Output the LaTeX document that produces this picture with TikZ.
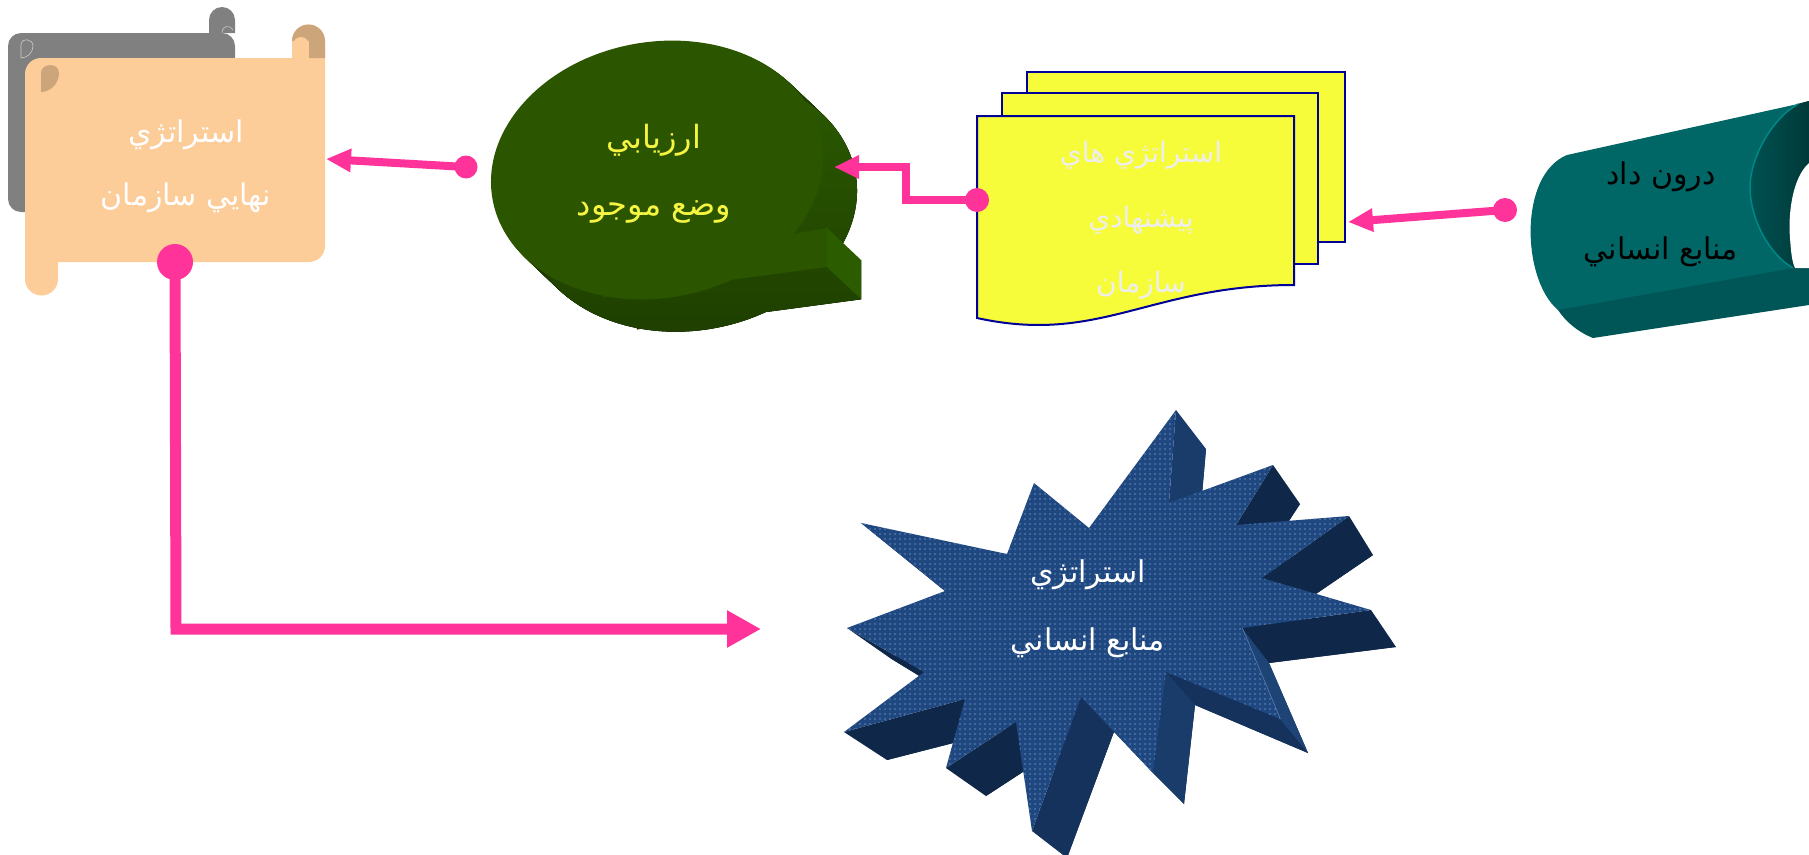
\documentclass[tikz,border=0pt]{standalone}
\usepackage{fontspec}
\newfontfamily\arabicfont[Script=Arabic]{DejaVu Sans}
\TeXXeTstate=1
\usetikzlibrary{arrows.meta,patterns.meta}
\newcommand\rl[1]{\beginR#1\endR}

\definecolor{pinkline}{RGB}{255,51,153}
\definecolor{peach}{RGB}{252,204,153}
\definecolor{scrolltan}{RGB}{205,165,122}
\definecolor{shadowgray}{RGB}{128,128,128}
\definecolor{leaf}{RGB}{44,85,0}
\definecolor{leafside}{RGB}{44,92,0}
\definecolor{leafdark}{RGB}{30,62,0}
\definecolor{bubbletext}{RGB}{245,245,66}
\definecolor{docyellow}{RGB}{247,252,58}
\definecolor{docline}{RGB}{0,0,153}
\definecolor{doctext}{RGB}{238,238,238}
\definecolor{tealface}{RGB}{0,102,102}
\definecolor{tealband}{RGB}{0,86,86}
\definecolor{tealin}{RGB}{0,72,72}
\definecolor{tealrim}{RGB}{0,135,135}
\definecolor{starface}{RGB}{31,72,128}
\definecolor{stardots}{RGB}{100,136,184}
\definecolor{starmid}{RGB}{26,60,106}
\definecolor{starlight}{RGB}{30,68,118}
\definecolor{starlow}{RGB}{21,50,92}
\definecolor{stardark}{RGB}{15,39,73}

\tikzset{
  arlabel/.style={align=center, inner sep=0pt},
  pinkdot/.style={circle, fill=pinkline, inner sep=0pt, minimum size=#1},
  flow/.style={draw=pinkline, line width=8pt, -{Triangle[length=25pt,width=22pt]}},
  mainflow/.style={draw=pinkline, line width=11pt, -{Triangle[length=34pt,width=35pt]}},
  docsheet/.style={fill=docyellow, draw=docline, line width=2pt},
}

% outline of the speech bubble: tilted ellipse plus its tail, one path
\newcommand\bubbleoutline{%
  (821.5,141) .. controls (833.8,210.6) and (770.1,280.1) .. (679.2,296.1)
  .. controls (588.3,312.1) and (504.8,268.6) .. (492.5,199)
  .. controls (480.2,129.4) and (543.9,59.9) .. (634.8,43.9)
  .. controls (725.7,27.9) and (809.2,71.4) .. (821.5,141) -- cycle
  (770,238) -- (827,228) -- (827,267) -- (603,297) -- (657,170) -- cycle}

\begin{document}
\begin{tikzpicture}[x=1pt,y=-1pt]
\useasboundingbox (0,0) rectangle (1809,854);
\clip (0,0) rectangle (1809,854);

% ---------- scroll: final organisation strategy ----------
\fill[shadowgray, rounded corners=13] (8,33) rectangle (235,212);
\fill[shadowgray] (209,33) -- (209,20) arc[start angle=180,end angle=360,radius=13] -- (235,33) -- cycle;
\draw[white!60!shadowgray, line width=0.6pt] (21,58) -- (21,44) .. controls (21,38) and (33,38) .. (33,46) .. controls (33,53) and (27,58) .. (21,58);
\draw[white!60!shadowgray, line width=0.6pt] (222,33) .. controls (222,26) and (229,24) .. (233,30);
\fill[peach] (25,74) arc[start angle=180,end angle=270,radius=16] -- (325,58) -- (325,246)
  arc[start angle=0,end angle=90,radius=16] -- (25,262) -- cycle;
\fill[peach] (292,58) -- (292,41) arc[start angle=180,end angle=360,radius=16.5] -- (325,58) -- cycle;
\fill[scrolltan] (292,41) arc[start angle=180,end angle=360,radius=16.5] -- (325,58) -- (309,58) -- (309,41) -- cycle;
\fill[peach] (301,45) circle[radius=8];
\fill[peach] (25,262) -- (25,279) arc[start angle=180,end angle=0,radius=16.5] -- (58,262) -- cycle;
\fill[scrolltan] (41,92) -- (41,73) .. controls (41,63) and (59,62) .. (59,73) .. controls (59,84) and (50,92) .. (41,92) -- cycle;
\node[arlabel, text=white, font=\arabicfont\fontsize{30}{63}\selectfont] (final) at (186,166)
  {\rl{استراتژي}\\\rl{نهايي سازمان}};

% ---------- speech bubble: assessment of the current state ----------
\foreach \s in {34,...,1}
  {\fill[leafdark, shift={(\s,0.95*\s)}] \bubbleoutline;}
\fill[top color=leafside, middle color=leafside!55!leafdark, bottom color=leafdark,
  shift={(34,32.3)}] \bubbleoutline;
\fill[leafside] (827,228) -- (861,260) -- (861,299) -- (827,267) -- cycle;
\fill[leaf] \bubbleoutline;
\node[arlabel, text=bubbletext, font=\arabicfont\fontsize{32}{67}\selectfont] (assess) at (654,174)
  {\rl{ارزيابي}\\\rl{وضع موجود}};

% ---------- stacked documents: proposed strategies ----------
\filldraw[docsheet] (1027,72) rectangle (1345,242);
\filldraw[docsheet] (1002,93) rectangle (1318,264);
\filldraw[docsheet] (977,116) -- (1294,116) -- (1294,285)
  .. controls (1150,285) and (1100,345) .. (977,318) -- cycle;
\node[arlabel, text=doctext, font=\arabicfont\fontsize{28}{65}\selectfont] (proposed) at (1141,220)
  {\rl{استراتژي هاي}\\\rl{پيشنهادي}\\\rl{سازمان}};

% ---------- half pipe: HR input ----------
\fill[tealband] (1556,305) -- (1809,263) -- (1809,305) -- (1593,338)
  .. controls (1578,332) and (1566,322) .. (1558,310) -- cycle;
\fill[tealface] (1567,155) -- (1798,104) .. controls (1770,120) and (1750,160) .. (1750,187)
  .. controls (1750,220) and (1770,255) .. (1793,268) -- (1558,310)
  .. controls (1522,280) and (1518,175) .. (1567,155) -- cycle;
\fill[left color=tealin!70!tealface, right color=tealin!80!black] (1798,104)
  .. controls (1770,120) and (1750,160) .. (1750,187)
  .. controls (1750,220) and (1770,255) .. (1793,268) -- (1809,268) -- (1809,101) -- cycle;
\draw[tealrim, line width=1.5pt] (1798,104) .. controls (1770,120) and (1750,160) .. (1750,187)
  .. controls (1750,220) and (1770,255) .. (1793,268);
\fill[white] (1809,163) .. controls (1792,178) and (1788,215) .. (1790,238)
  .. controls (1791,252) and (1792,262) .. (1795,268) -- (1809,268) -- cycle;
\node[arlabel, text=black, font=\arabicfont\fontsize{30}{75}\selectfont] (input) at (1661,214)
  {\rl{درون داد}\\\rl{منابع انساني}};

% ---------- explosion star: HR strategy (front face f, extruded face b) ----------
\foreach \n/\x/\y/\u/\v in {
  1/1176/410/1206/449, 2/1169/503/1198/540, 3/1273/465/1300/504, 4/1236/525/1262/562,
  5/1349/516/1373/555, 6/1262/578/1288/613, 7/1371/610/1396/647, 8/1242/628/1269/663,
  9/1280/719/1308/753, 10/1166/672/1195/705, 11/1153/773/1184/804, 12/1081/697/1115/729,
  13/1032/831/1067/858, 14/1016/722/1052/753, 15/946/768/986/796, 16/965/699/1004/730,
  17/844/732/887/760, 18/924/672/962/702, 19/847/628/890/658, 20/945/591/984/624,
  21/861/523/903/555, 22/1007/554/1045/588, 23/1034/483/1068/518, 24/1089/528/1122/564}
{\coordinate (f\n) at (\x,\y); \coordinate (b\n) at (\u,\v);}
\fill[stardark] (b1) \foreach \n in {2,...,24} {-- (b\n)} -- cycle;
\foreach \i/\j/\c in {3/4/stardark, 5/6/stardark, 7/8/stardark, 11/12/stardark,
  14/15/stardark, 16/17/stardark, 18/19/stardark, 20/21/stardark,
  1/2/starmid, 9/10/starlow, 10/11/starmid, 12/13/starlow, 8/9/starlight}
{\fill[\c] (f\i) -- (f\j) -- (b\j) -- (b\i) -- cycle;}
\draw[stardots, line width=1.2pt] (f8) -- (f9);
\fill[starface] (f1) \foreach \n in {2,...,24} {-- (f\n)} -- cycle;
\fill[pattern={Dots[distance=5pt,radius=0.8pt]}, pattern color=stardots]
  (f1) \foreach \n in {2,...,24} {-- (f\n)} -- cycle;
\node[arlabel, text=white, font=\arabicfont\fontsize{30}{68}\selectfont] (hrs) at (1088,609)
  {\rl{استراتژي}\\\rl{منابع انساني}};

% ---------- connectors ----------
\coordinate (finalR) at (326,159);
\coordinate (finalout) at (176,629);
\coordinate (hrsL) at (761,629);
\coordinate (assessR) at (834,167);
\coordinate (propR) at (1348,222);
\node[pinkdot=23pt] (d1) at (466,167) {};
\node[pinkdot=24pt] (d2) at (977,200) {};
\node[pinkdot=24pt] (d3) at (1505,210) {};
\draw[flow] (d1.center) -- (finalR);
\draw[flow] (d2.center) -- (906,200) -- (906,167) -- (assessR);
\draw[flow] (d3.center) -- (propR);
\node[pinkdot=36pt] (d4) at (175,262) {};
\draw[mainflow] (d4.center) -- (finalout) -- (hrsL);
\end{tikzpicture}
\end{document}
